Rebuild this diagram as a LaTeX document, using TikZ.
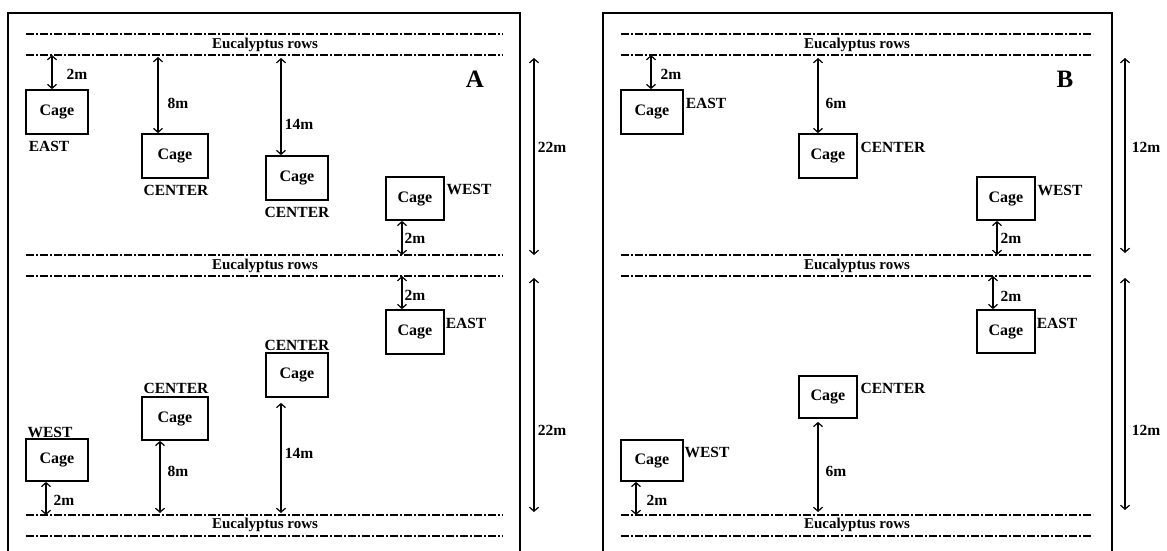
\documentclass[tikz,border=0pt]{standalone}
\usepackage{fontspec}
\setmainfont{Liberation Serif}
\usetikzlibrary{arrows.meta}
\begin{document}
\begin{tikzpicture}[x=1pt,y=-1pt,
 cage/.style={draw,line width=1.7pt,minimum width=60pt,minimum height=43pt,inner sep=0pt,font=\fontsize{16}{19}\selectfont\bfseries},
 lab/.style={font=\fontsize{15.5}{18}\selectfont\bfseries,inner sep=1pt},
 rowtxt/.style={font=\fontsize{15}{18}\selectfont\bfseries,inner sep=1pt},
 big/.style={font=\fontsize{25}{28}\selectfont\bfseries,inner sep=0pt},
 row/.style={line width=2.2pt,dash pattern=on 8pt off 2pt on 2pt off 2pt},
 dim/.style={line width=1.2pt,{Straight Barb[length=4pt,width=9pt]}-{Straight Barb[length=4pt,width=9pt]}},
 frame/.style={line width=1.7pt}]
\useasboundingbox (0,0) rectangle (1167,551);
% frames
\draw[frame] (8,551) -- (8,13) -- (520,13) -- (520,551);
\draw[frame] (603,551) -- (603,13) -- (1112,13) -- (1112,551);
% eucalyptus rows
\foreach \y in {34,55,255,276,515,536}{
  \draw[row] (26,\y) -- (503,\y);
  \draw[row] (621,\y) -- (1093,\y);
}
\foreach \y/\n in {45/1,266/2,525/3}{
  \node[rowtxt] (ra\n) at (265,\y) {Eucalyptus rows};
  \node[rowtxt] (rb\n) at (857,\y) {Eucalyptus rows};
}
% ---------- Panel A ----------
\node[big] (lA) at (475,79) {A};
\node[cage,minimum width=62pt,minimum height=44pt] (cA1) at (57,112) {Cage};
\node[cage,minimum width=66pt,minimum height=44pt] (cA2) at (175,156) {Cage};
\node[cage,minimum width=62pt,minimum height=44pt] (cA3) at (297,178) {Cage};
\node[cage,minimum width=58pt,minimum height=43pt] (cA4) at (415,198.5) {Cage};
\node[cage,minimum width=58pt,minimum height=44pt] (cA5) at (415,332) {Cage};
\node[cage,minimum width=62pt,minimum height=44pt] (cA6) at (297,375) {Cage};
\node[cage,minimum width=66pt,minimum height=43pt] (cA7) at (175,418.5) {Cage};
\node[cage,minimum width=62pt,minimum height=42pt] (cA8) at (57,460) {Cage};

\node[lab] (tA1) at (49,146) {EAST};
\node[lab] (tA2) at (176,190) {CENTER};
\node[lab] (tA3) at (297,212) {CENTER};
\node[lab] (tA4) at (469,189) {WEST};
\node[lab] (tA5) at (466,323) {EAST};
\node[lab] (tA6) at (297,345) {CENTER};
\node[lab] (tA7) at (176,388) {CENTER};
\node[lab] (tA8) at (50,432) {WEST};

\coordinate (pA1) at (52,55);
\coordinate (pA2) at (158,57);
\coordinate (pA3) at (281,58);
\coordinate (pA4) at (402,255);
\coordinate (pA5) at (402,276);
\coordinate (pA6) at (281,513);
\coordinate (pA7) at (160,513);
\coordinate (pA8) at (46,515);
\draw[dim] (pA1) -- (pA1 |- cA1.north);
\draw[dim] (pA2) -- (pA2 |- cA2.north);
\draw[dim] (pA3) -- (pA3 |- cA3.north);
\draw[dim] (pA4) -- (pA4 |- cA4.south);
\draw[dim] (pA5) -- (pA5 |- cA5.north);
\draw[dim,shorten >=5pt] (pA6) -- (pA6 |- cA6.south);
\draw[dim] (pA7) -- (pA7 |- cA7.south);
\draw[dim] (pA8) -- (pA8 |- cA8.south);
\node[lab] (mA1) at (77,74) {2m};
\node[lab] (mA2) at (178,103) {8m};
\node[lab] (mA3) at (299,124) {14m};
\node[lab] (mA4) at (415,238) {2m};
\node[lab] (mA5) at (415,295) {2m};
\node[lab] (mA6) at (299,453) {14m};
\node[lab] (mA7) at (178,471) {8m};
\node[lab] (mA8) at (64,500) {2m};

\coordinate (sA1) at (534,58);
\coordinate (sA2) at (534,255);
\coordinate (sA3) at (534,278);
\coordinate (sA4) at (534,512);
\draw[dim] (sA1) -- (sA2);
\draw[dim] (sA3) -- (sA4);
\node[lab] (dA1) at (552,147) {22m};
\node[lab] (dA2) at (552,430) {22m};

% ---------- Panel B ----------
\node[big] (lB) at (1065,79) {B};
\node[cage,minimum width=62pt,minimum height=44pt] (cB1) at (652,112) {Cage};
\node[cage,minimum width=58pt,minimum height=44pt] (cB2) at (828,156) {Cage};
\node[cage,minimum width=58pt,minimum height=43pt] (cB3) at (1006,198.5) {Cage};
\node[cage,minimum width=58pt,minimum height=43pt] (cB4) at (1006,331.5) {Cage};
\node[cage,minimum width=58pt,minimum height=42pt] (cB5) at (828,397) {Cage};
\node[cage,minimum width=62pt,minimum height=41pt] (cB6) at (652,460.5) {Cage};

\node[lab] (tB1) at (706,103) {EAST};
\node[lab] (tB2) at (893,147) {CENTER};
\node[lab] (tB3) at (1060,190) {WEST};
\node[lab] (tB4) at (1057,323) {EAST};
\node[lab] (tB5) at (893,388) {CENTER};
\node[lab] (tB6) at (707,452) {WEST};

\coordinate (pB1) at (651,55);
\coordinate (pB2) at (818,58);
\coordinate (pB3) at (997,255);
\coordinate (pB4) at (993,276);
\coordinate (pB5) at (818,512);
\coordinate (pB6) at (636,515);
\draw[dim] (pB1) -- (pB1 |- cB1.north);
\draw[dim] (pB2) -- (pB2 |- cB2.north);
\draw[dim] (pB3) -- (pB3 |- cB3.south);
\draw[dim] (pB4) -- (pB4 |- cB4.north);
\draw[dim,shorten >=3pt] (pB5) -- (pB5 |- cB5.south);
\draw[dim] (pB6) -- (pB6 |- cB6.south);
\node[lab] (mB1) at (671,74) {2m};
\node[lab] (mB2) at (836,103) {6m};
\node[lab] (mB3) at (1011,238) {2m};
\node[lab] (mB4) at (1011,296) {2m};
\node[lab] (mB5) at (836,471) {6m};
\node[lab] (mB6) at (657,500) {2m};

\coordinate (sB1) at (1125,58);
\coordinate (sB2) at (1125,253);
\coordinate (sB3) at (1125,278);
\coordinate (sB4) at (1125,510);
\draw[dim] (sB1) -- (sB2);
\draw[dim] (sB3) -- (sB4);
\node[lab] (dB1) at (1146,147) {12m};
\node[lab] (dB2) at (1146,430) {12m};
\end{tikzpicture}
\end{document}
